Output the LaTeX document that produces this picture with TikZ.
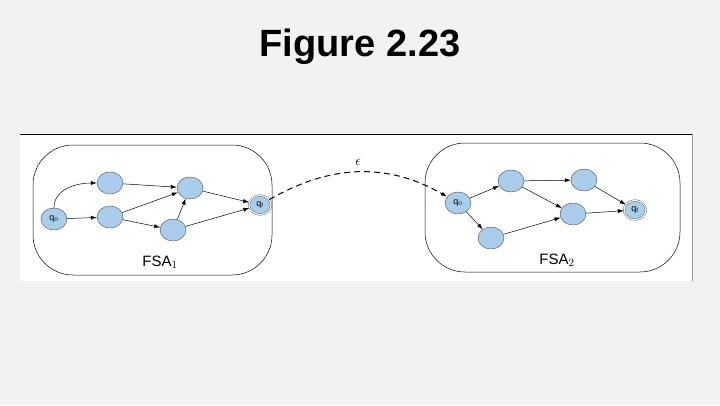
\documentclass[tikz,border=0pt]{standalone}
\usepackage{fontspec}
\setmainfont{Liberation Sans}
\usetikzlibrary{arrows.meta,shapes.geometric}
\begin{document}
\begin{tikzpicture}[x=1pt,y=-1pt,
 st/.style={ellipse,draw=black!70,fill=stc,minimum width=26pt,minimum height=22pt,inner sep=0pt,font=\fontsize{9}{10}\selectfont},
 fin/.style={st,double=white,double distance=1.2pt,minimum width=22pt,minimum height=19pt},
 ar/.style={-{Latex[length=6pt,width=4pt]},line width=0.5pt},
 lab/.style={font=\fontsize{15}{17}\selectfont},
 box/.style={draw=black,rounded corners=40pt,line width=0.5pt}]
\definecolor{stc}{HTML}{A9CDEB}
\useasboundingbox (0,0) rectangle (720,405);
\fill[black!5] (0,0) rectangle (720,405);
\node[font=\bfseries\fontsize{38}{44}\selectfont] (title) at (360,47) {Figure 2.23};
\fill[white] (20,134) rectangle (692,281);
\draw[black,line width=1pt] (20,134) -- (692,134);
\draw[black!40] (692,134) -- (692,281);
\draw[box] (33,145) rectangle (272,275);
\draw[box] (425,143) rectangle (680,272);
% left
\node[st] (l0) at (54,219) {q$_0$};
\node[st] (l1) at (110,183) {};
\node[st] (l2) at (110,217) {};
\node[st] (l3) at (190,188) {};
\node[st] (l4) at (173,230) {};
\node[fin] (lf) at (260,205) {q$_\mathrm{f}$};
\draw[ar] (l0) to[out=90,in=180] (l1);
\draw[ar] (l0) -- (l2);
\draw[ar] (l1) -- (l3);
\draw[ar] (l2) -- (l3);
\draw[ar] (l2) -- (l4);
\draw[ar] (l4) -- (l3);
\draw[ar] (l3) -- (lf);
\draw[ar] (l4) -- (lf);
\node[lab] (f1) at (160,262) {FSA$_1$};
% right
\node[st] (r0) at (458,203) {q$_0$};
\node[st] (r1) at (511,181) {};
\node[st] (r2) at (584,180) {};
\node[st] (r3) at (491,238) {};
\node[st] (r4) at (573,214) {};
\node[fin] (rf) at (635,210) {q$_\mathrm{f}$};
\draw[ar] (r0) -- (r1);
\draw[ar] (r0) -- (r3);
\draw[ar] (r1) -- (r2);
\draw[ar] (r1) -- (r4);
\draw[ar] (r3) -- (r4);
\draw[ar] (r2) -- (rf);
\draw[ar] (r4) -- (rf);
\node[lab] (f2) at (557,260) {FSA$_2$};
% epsilon
\draw[ar,line width=1pt,dash pattern=on 6pt off 4pt] (lf) to[out=30,in=150] node[above=3pt,lab] {$\epsilon$} (r0);
\end{tikzpicture}
\end{document}
